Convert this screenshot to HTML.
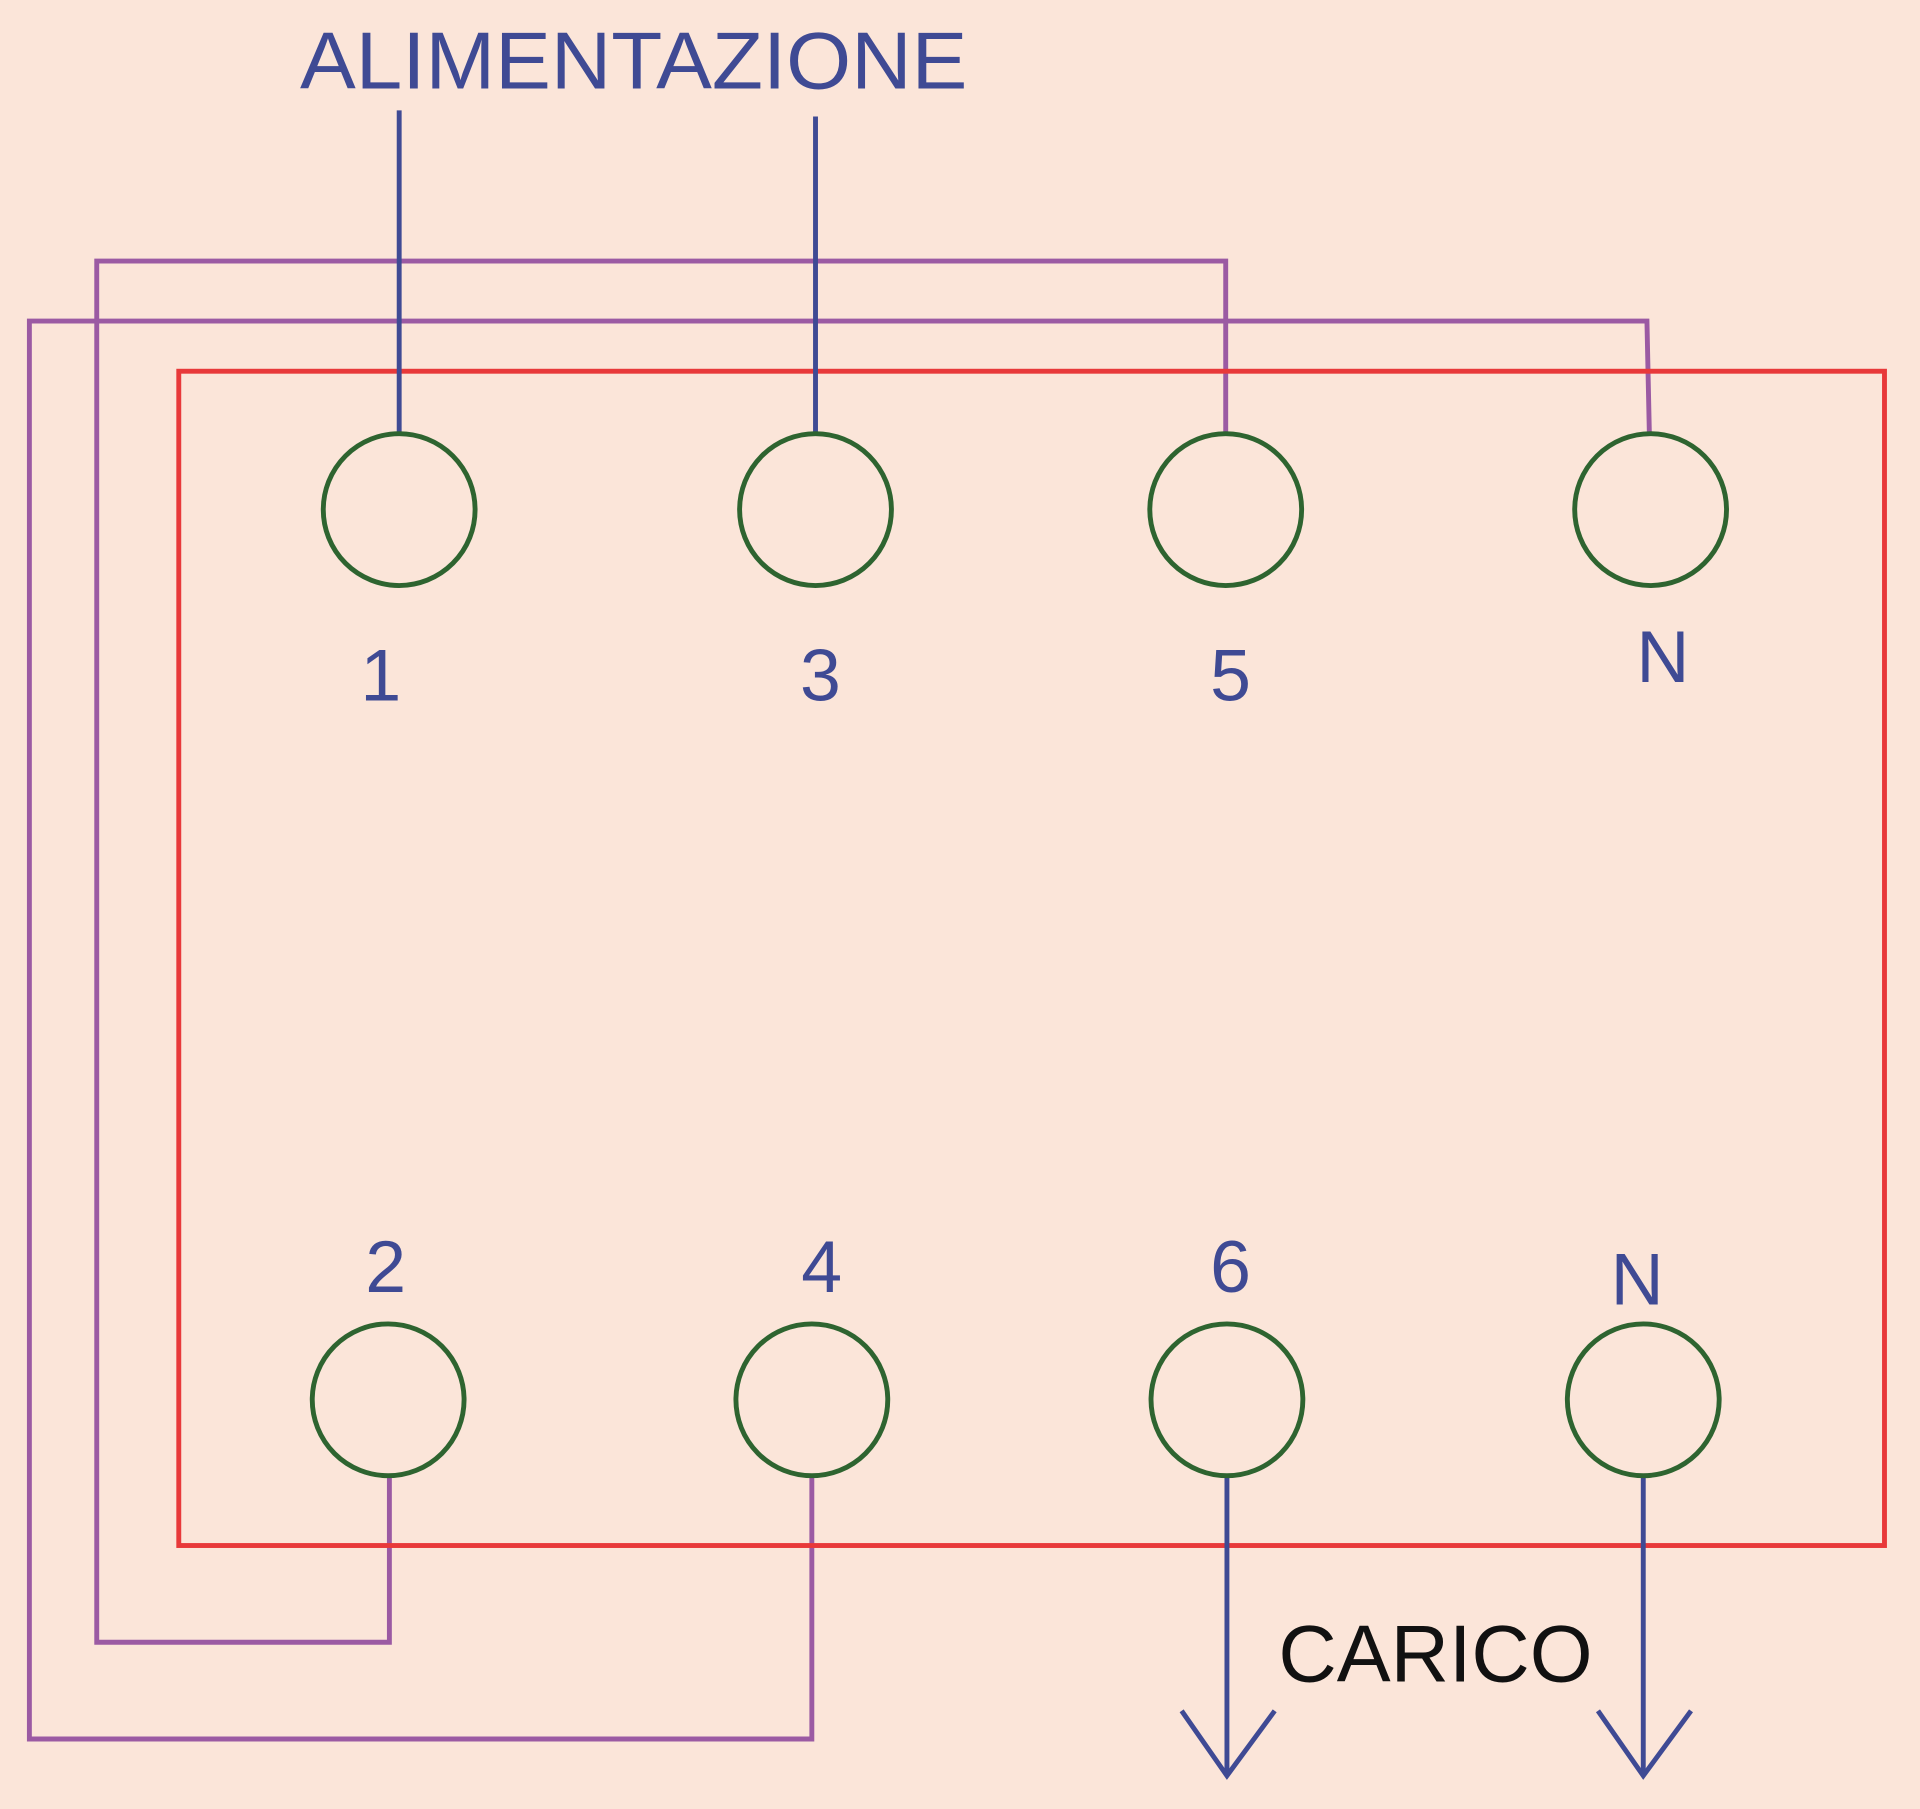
<!DOCTYPE html>
<html><head><meta charset="utf-8"><style>
html,body{margin:0;padding:0;background:#fbe5d9;}
svg{display:block;}
text{font-family:"Liberation Sans",sans-serif;}
</style></head><body>
<svg width="1920" height="1809" viewBox="0 0 1568 1477" xmlns="http://www.w3.org/2000/svg">
<rect x="0" y="0" width="1568" height="1477" fill="#fbe5d9"/>
<text x="245" y="72" font-size="66" fill="#3f4a94" textLength="545" lengthAdjust="spacingAndGlyphs">ALIMENTAZIONE</text>
<g stroke="#9b5aa3" stroke-width="4" fill="none">
<polyline points="1001,355 1001,213 79,213 79,1341 318,1341 318,1205"/>
<polyline points="1347,355 1345,262 24,262 24,1420 663,1420 663,1205"/>
</g>
<rect x="146" y="303" width="1393" height="959" fill="none" stroke="#e8393a" stroke-width="4"/>
<g stroke="#3f4a94" stroke-width="4" fill="none">
<line x1="326" y1="90" x2="326" y2="355"/>
<line x1="666" y1="95" x2="666" y2="355"/>
<polyline points="1002,1205 1002,1450"/>
<polyline points="965,1397 1002,1450 1041,1397"/>
<polyline points="1342,1205 1342,1450"/>
<polyline points="1305,1397 1342,1450 1381,1397"/>
</g>
<g stroke="#2e6430" stroke-width="4" fill="none">
<circle cx="326" cy="416" r="62"/>
<circle cx="666" cy="416" r="62"/>
<circle cx="1001" cy="416" r="62"/>
<circle cx="1348" cy="416" r="62"/>
<circle cx="317" cy="1143" r="62"/>
<circle cx="663" cy="1143" r="62"/>
<circle cx="1002" cy="1143" r="62"/>
<circle cx="1342" cy="1143" r="62"/>
</g>
<g fill="#3f4a94" font-size="60" text-anchor="middle">
<text x="311" y="572">1</text>
<text x="670" y="572">3</text>
<text x="1005" y="572">5</text>
<text x="1358" y="557">N</text>
<text x="315" y="1055">2</text>
<text x="671" y="1055">4</text>
<text x="1005" y="1055">6</text>
<text x="1337" y="1065">N</text>
</g>
<text x="1044" y="1373" font-size="66" fill="#111">CARICO</text>
</svg>
</body></html>
